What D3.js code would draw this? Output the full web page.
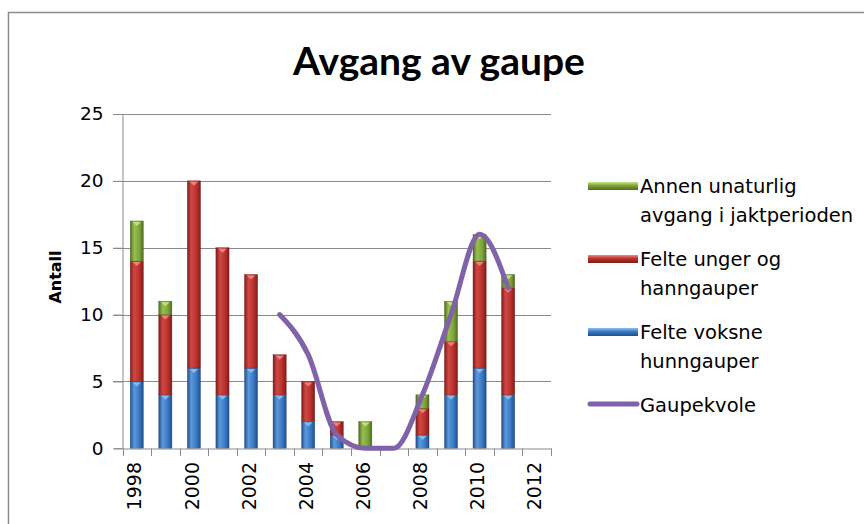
<!DOCTYPE html>
<html>
<head>
<meta charset="utf-8">
<script src="https://cdn.jsdelivr.net/npm/d3@7"></script>
<style>
  body { margin: 0; background: #fff; }
  text { font-family: "DejaVu Sans", sans-serif; fill: #000; }
</style>
</head>
<body>
<div id="chart"></div>
<script>
// data
var years = ['1998','1999','2000','2001','2002','2003','2004','2005','2006','2007','2008','2009','2010','2011','2012'];
var xLabels = ['1998','2000','2002','2004','2006','2008','2010','2012'];
var hunngauper = [5, 4, 6, 4, 6, 4, 2, 1, 0, 0, 1, 4, 6, 4];     // Felte voksne hunngauper
var hanngauper = [9, 6, 14, 11, 7, 3, 3, 1, 0, 0, 2, 4, 8, 8];   // Felte unger og hanngauper
var annen      = [3, 1, 0, 0, 0, 0, 0, 0, 2, 0, 1, 3, 2, 1];     // Annen unaturlig avgang
var kvote      = [null, null, null, null, null, 10, 7, 1, 0, 0, 4, 10, 16, 12];
var yTicks = [0, 5, 10, 15, 20, 25];

var w = 864, h = 524;
var svg = d3.select('#chart').append('svg')
  .attr('width', w)
  .attr('height', h);

svg.append('rect').attr('width', w).attr('height', h).attr('fill', '#fff');
// chart frame (runs off the right and bottom)
svg.append('rect')
  .attr('x', 8.5).attr('y', 12.5)
  .attr('width', 900).attr('height', 600)
  .attr('fill', 'none')
  .attr('stroke', '#8c8c8c')
  .attr('stroke-width', 1.5);

var x = d3.scaleBand().domain(years).range([122.5, 551]).padding(0);
var y = d3.scaleLinear().domain([0, 25]).range([448.3, 114]);

var series = [
  { key: 'blue',  name: ['Felte voksne', 'hunngauper'], values: hunngauper, dark: '#1f4f8a', mid: '#3a78c2', light: '#5b98dc', tip: '#8cc0f0' },
  { key: 'red',   name: ['Felte unger og', 'hanngauper'], values: hanngauper, dark: '#7e1c1a', mid: '#b8312d', light: '#d04844', tip: '#f08a86' },
  { key: 'green', name: ['Annen unaturlig', 'avgang i jaktperioden'], values: annen, dark: '#4f6b22', mid: '#7ea33a', light: '#98bf50', tip: '#c6e880' }
];

var defs = svg.append('defs');
series.forEach(function(s) {
  var g = defs.append('linearGradient').attr('id', 'bar-' + s.key)
    .attr('x1', '0%').attr('x2', '100%').attr('y1', '0%').attr('y2', '0%');
  g.append('stop').attr('offset', '0%').attr('stop-color', s.dark);
  g.append('stop').attr('offset', '30%').attr('stop-color', s.light);
  g.append('stop').attr('offset', '70%').attr('stop-color', s.mid);
  g.append('stop').attr('offset', '100%').attr('stop-color', s.dark);
  var lg = defs.append('linearGradient').attr('id', 'leg-' + s.key)
    .attr('x1', '0%').attr('x2', '0%').attr('y1', '0%').attr('y2', '100%');
  lg.append('stop').attr('offset', '0%').attr('stop-color', s.tip);
  lg.append('stop').attr('offset', '45%').attr('stop-color', s.mid);
  lg.append('stop').attr('offset', '100%').attr('stop-color', s.dark);
});

// gridlines
svg.append('g').selectAll('line')
  .data(yTicks.slice(1))
  .enter().append('line')
  .attr('x1', 113).attr('x2', 551)
  .attr('y1', function(d) { return Math.round(y(d)) + 0.5; })
  .attr('y2', function(d) { return Math.round(y(d)) + 0.5; })
  .attr('stroke', '#8a8a8a')
  .attr('stroke-width', 1);

// y axis
var yAxis = d3.axisLeft(y).tickValues(yTicks).tickSize(9).tickPadding(10);
var yAxisGroup = svg.append('g')
  .attr('transform', 'translate(122.5, 0)')
  .call(yAxis);
yAxisGroup.select('.domain').attr('stroke', '#8a8a8a');
yAxisGroup.selectAll('.tick line').attr('stroke', '#8a8a8a');
yAxisGroup.selectAll('.tick text')
  .attr('font-size', 18.5)
  .attr('font-family', '"DejaVu Sans", sans-serif')
  .attr('fill', '#222');

svg.append('text')
  .attr('transform', 'translate(61, 277) rotate(-90)')
  .attr('text-anchor', 'middle')
  .attr('font-size', 16)
  .attr('font-weight', 'bold')
  .text('Antall');

// stacked bars
var rows = years.slice(0, 14).map(function(yr, i) {
  return { year: yr, blue: hunngauper[i], red: hanngauper[i], green: annen[i] };
});
var stack = d3.stack().keys(['blue', 'red', 'green'])(rows);
var barW = x.bandwidth() * 0.46;

stack.forEach(function(layer, li) {
  var s = series[li];
  var grp = svg.append('g').attr('class', 'layer-' + s.key);
  var segs = layer.filter(function(d) { return d[1] > d[0]; });
  grp.selectAll('rect')
    .data(segs)
    .enter().append('rect')
    .attr('x', function(d) { return x(d.data.year) + (x.bandwidth() - barW) / 2; })
    .attr('y', function(d) { return y(d[1]); })
    .attr('width', barW)
    .attr('height', function(d) { return y(d[0]) - y(d[1]); })
    .attr('fill', 'url(#bar-' + s.key + ')')
    .attr('stroke', s.dark)
    .attr('stroke-width', 0.4);
  // small bevel highlight at the top of each segment
  grp.selectAll('path')
    .data(segs)
    .enter().append('path')
    .attr('d', function(d) {
      var cx = x(d.data.year) + x.bandwidth() / 2;
      var top = y(d[1]) + 1;
      return 'M' + (cx - barW * 0.32) + ',' + top + 'L' + (cx + barW * 0.32) + ',' + top + 'L' + cx + ',' + (top + 4) + 'Z';
    })
    .attr('fill', s.tip)
    .attr('opacity', 0.9);
});

// x axis
var xAxis = d3.axisBottom(x).tickSize(0).tickFormat('');
var xAxisGroup = svg.append('g')
  .attr('transform', 'translate(0, 448.5)')
  .call(xAxis);
xAxisGroup.select('.domain').attr('stroke', '#8a8a8a');
svg.append('g').selectAll('line')
  .data(years.concat(['end']))
  .enter().append('line')
  .attr('x1', function(d, i) { return Math.round(122.5 + i * x.step()) + 0.5; })
  .attr('x2', function(d, i) { return Math.round(122.5 + i * x.step()) + 0.5; })
  .attr('y1', 448.5).attr('y2', 456)
  .attr('stroke', '#8a8a8a');

svg.append('g').selectAll('text')
  .data(xLabels)
  .enter().append('text')
  .attr('transform', function(d) {
    return 'translate(' + (x(d) + x.bandwidth() / 2 - 2) + ', 462) rotate(-90)';
  })
  .attr('text-anchor', 'end')
  .attr('dy', '0.35em')
  .attr('font-size', 19)
  .attr('fill', '#222')
  .text(function(d) { return d; });

// quota line
var line = d3.line()
  .defined(function(d) { return d != null; })
  .x(function(d, i) { return x(years[i]) + x.bandwidth() / 2; })
  .y(function(d) { return y(d); })
  .curve(d3.curveMonotoneX);

svg.append('path')
  .datum(kvote)
  .attr('d', line)
  .attr('fill', 'none')
  .attr('stroke', '#7f62a8')
  .attr('stroke-width', 5)
  .attr('stroke-linecap', 'round')
  .attr('stroke-linejoin', 'round');

// title
svg.append('text')
  .attr('x', 439).attr('y', 75)
  .attr('text-anchor', 'middle')
  .attr('font-weight', 'bold')
  .attr('font-size', 39)
  .style('font-family', 'Lato, sans-serif')
  .text('Avgang av gaupe');

// legend
var legendItems = [series[2], series[1], series[0]];
var legend = svg.append('g');
legendItems.forEach(function(s, i) {
  var cy = 186 + i * 73;
  legend.append('rect')
    .attr('x', 588).attr('y', cy - 4)
    .attr('width', 50).attr('height', 8)
    .attr('fill', 'url(#leg-' + s.key + ')');
  s.name.forEach(function(t, j) {
    legend.append('text')
      .attr('x', 640).attr('y', cy + j * 29)
      .attr('dy', '0.35em')
      .attr('font-size', 19.5)
      .attr('fill', '#222')
      .text(t);
  });
});
legend.append('line')
  .attr('x1', 590).attr('x2', 637)
  .attr('y1', 404).attr('y2', 404)
  .attr('stroke', '#7f62a8')
  .attr('stroke-width', 5)
  .attr('stroke-linecap', 'round');
legend.append('text')
  .attr('x', 640).attr('y', 405)
  .attr('dy', '0.35em')
  .attr('font-size', 19.5)
  .attr('fill', '#222')
  .text('Gaupekvole');
</script>
</body>
</html>
